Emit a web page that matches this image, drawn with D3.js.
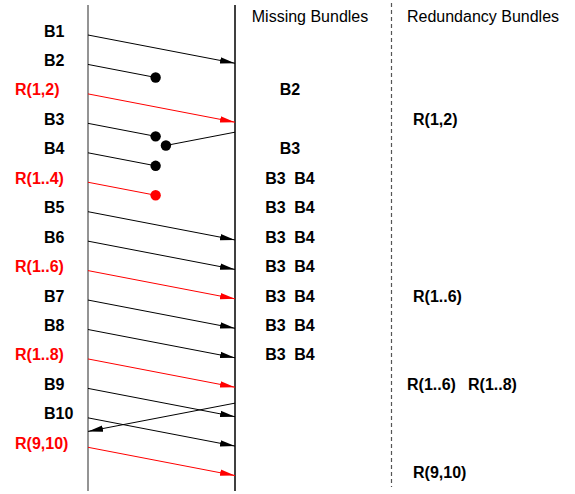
<!DOCTYPE html>
<html>
<head>
<meta charset="utf-8">
<script src="https://cdn.jsdelivr.net/npm/d3@7"></script>
<style>
    body { margin: 0; background: #fff; }
    svg { display: block; font-family: "Liberation Sans", Arial, sans-serif; }
</style>
</head>
<body>
<div id="chart"></div>
<script>
// bundles sent from the left side, one per time slot
let bundles = ["B1", "B2", "R(1,2)", "B3", "B4", "R(1..4)", "B5", "B6", "R(1..6)", "B7", "B8", "R(1..8)", "B9", "B10", "R(9,10)"];
let lostBundles = ["B2", "B3", "B4", "R(1..4)"];
let lossFraction = 0.46;
let travelTime = 0.96;

// messages going back from right to left
let ackStarts = [3.3, 12.5];
let ackLost = [0.47, null];

// right hand columns
let headers = ["Missing Bundles", "Redundancy Bundles"];
let missingRows = [2, 4, 5, 6, 7, 8, 9, 10, 11];
let missingLists = [["B2"], ["B3"], ["B3", "B4"], ["B3", "B4"], ["B3", "B4"], ["B3", "B4"], ["B3", "B4"], ["B3", "B4"], ["B3", "B4"]];
let redundancyRows = [3, 9, 12, 15];
let redundancyLists = [["R(1,2)"], ["R(1..6)"], ["R(1..6)", "R(1..8)"], ["R(9,10)"]];

let width = 575;
let height = 494;

let svg = d3.select("#chart").append("svg")
    .attr("width", width)
    .attr("height", height);

//scales: x is the fraction of the way from sender to receiver, y is time
let x = d3.scaleLinear().domain([0, 1]).range([88, 235]);
let y = d3.scaleLinear().domain([0, 16]).range([35, 35 + 16 * 29.45]);

let isRed = name => name.startsWith("R");

//arrow markers
let defs = svg.append("defs");
[["black", "#000"], ["red", "#ff0000"]].forEach(function(m) {
    defs.append("marker")
        .attr("id", "arrow-" + m[0])
        .attr("markerUnits", "userSpaceOnUse")
        .attr("viewBox", "0 -4 15 8")
        .attr("refX", 15)
        .attr("refY", 0)
        .attr("markerWidth", 15)
        .attr("markerHeight", 8)
        .attr("orient", "auto")
        .append("path")
        .attr("d", "M0,-3.2L15,0L0,3.2Z")
        .attr("fill", m[1]);
});

//vertical lines
svg.append("line")
    .attr("x1", x(0)).attr("x2", x(0))
    .attr("y1", 5).attr("y2", 491)
    .attr("stroke", "#707070")
    .attr("stroke-width", 1.5);

svg.append("line")
    .attr("x1", x(1)).attr("x2", x(1))
    .attr("y1", 5).attr("y2", 491)
    .attr("stroke", "#000")
    .attr("stroke-width", 1.5);

svg.append("line")
    .attr("x1", 391.5).attr("x2", 391.5)
    .attr("y1", 3).attr("y2", 487)
    .attr("stroke", "#555")
    .attr("stroke-width", 1.2)
    .attr("stroke-dasharray", "4,3");

//bundle labels on the left
svg.selectAll(".blabel")
    .data(bundles)
    .enter()
    .append("text")
    .attr("class", "blabel")
    .attr("x", d => isRed(d) ? 15 : 44)
    .attr("y", (d, i) => y(i) + 1.5)
    .attr("font-size", "16px")
    .attr("font-weight", "bold")
    .attr("fill", d => isRed(d) ? "#ff0000" : "#000")
    .text(d => d);

//forward bundles
bundles.forEach(function(name, i) {
    let col = isRed(name) ? "#ff0000" : "#000";
    let lost = lostBundles.includes(name);
    let f = lost ? lossFraction : 1;
    let x2 = x(f);
    let y2 = y(i + travelTime * f);

    let ln = svg.append("line")
        .attr("x1", x(0)).attr("y1", y(i))
        .attr("x2", x2).attr("y2", y2)
        .attr("stroke", col)
        .attr("stroke-width", 1);

    if (lost) {
        svg.append("circle")
            .attr("cx", x2).attr("cy", y2)
            .attr("r", 5.2)
            .attr("fill", col);
    } else {
        ln.attr("marker-end", `url(#arrow-${isRed(name) ? "red" : "black"})`);
    }
});

//backward messages
ackStarts.forEach(function(t, i) {
    let f = ackLost[i] == null ? 1 : ackLost[i];
    let x2 = x(1 - f);
    let y2 = y(t + travelTime * f);

    let ln = svg.append("line")
        .attr("x1", x(1)).attr("y1", y(t))
        .attr("x2", x2).attr("y2", y2)
        .attr("stroke", "#000")
        .attr("stroke-width", 1);

    if (ackLost[i] != null) {
        svg.append("circle")
            .attr("cx", x2).attr("cy", y2)
            .attr("r", 5.2)
            .attr("fill", "#000");
    } else {
        ln.attr("marker-end", "url(#arrow-black)");
    }
});

//column headers
svg.selectAll(".header")
    .data(headers)
    .enter()
    .append("text")
    .attr("class", "header")
    .attr("x", (d, i) => i == 0 ? 310 : 483)
    .attr("y", 22)
    .attr("text-anchor", "middle")
    .attr("font-size", "16px")
    .attr("fill", "#000")
    .text(d => d);

//missing bundles, centred in their column
missingRows.forEach(function(row, k) {
    let list = missingLists[k];
    list.forEach(function(b, j) {
        svg.append("text")
            .attr("x", 290 + (j - (list.length - 1) / 2) * 29)
            .attr("y", y(row) + 1.5)
            .attr("text-anchor", "middle")
            .attr("font-size", "16px")
            .attr("font-weight", "bold")
            .text(b);
    });
});

//redundancy bundles
redundancyRows.forEach(function(row, k) {
    let list = redundancyLists[k];
    list.forEach(function(r, j) {
        svg.append("text")
            .attr("x", 413 - 6 * (list.length - 1) + 61 * j)
            .attr("y", y(row) + 1.5)
            .attr("font-size", "16px")
            .attr("font-weight", "bold")
            .text(r);
    });
});
</script>
</body>
</html>
